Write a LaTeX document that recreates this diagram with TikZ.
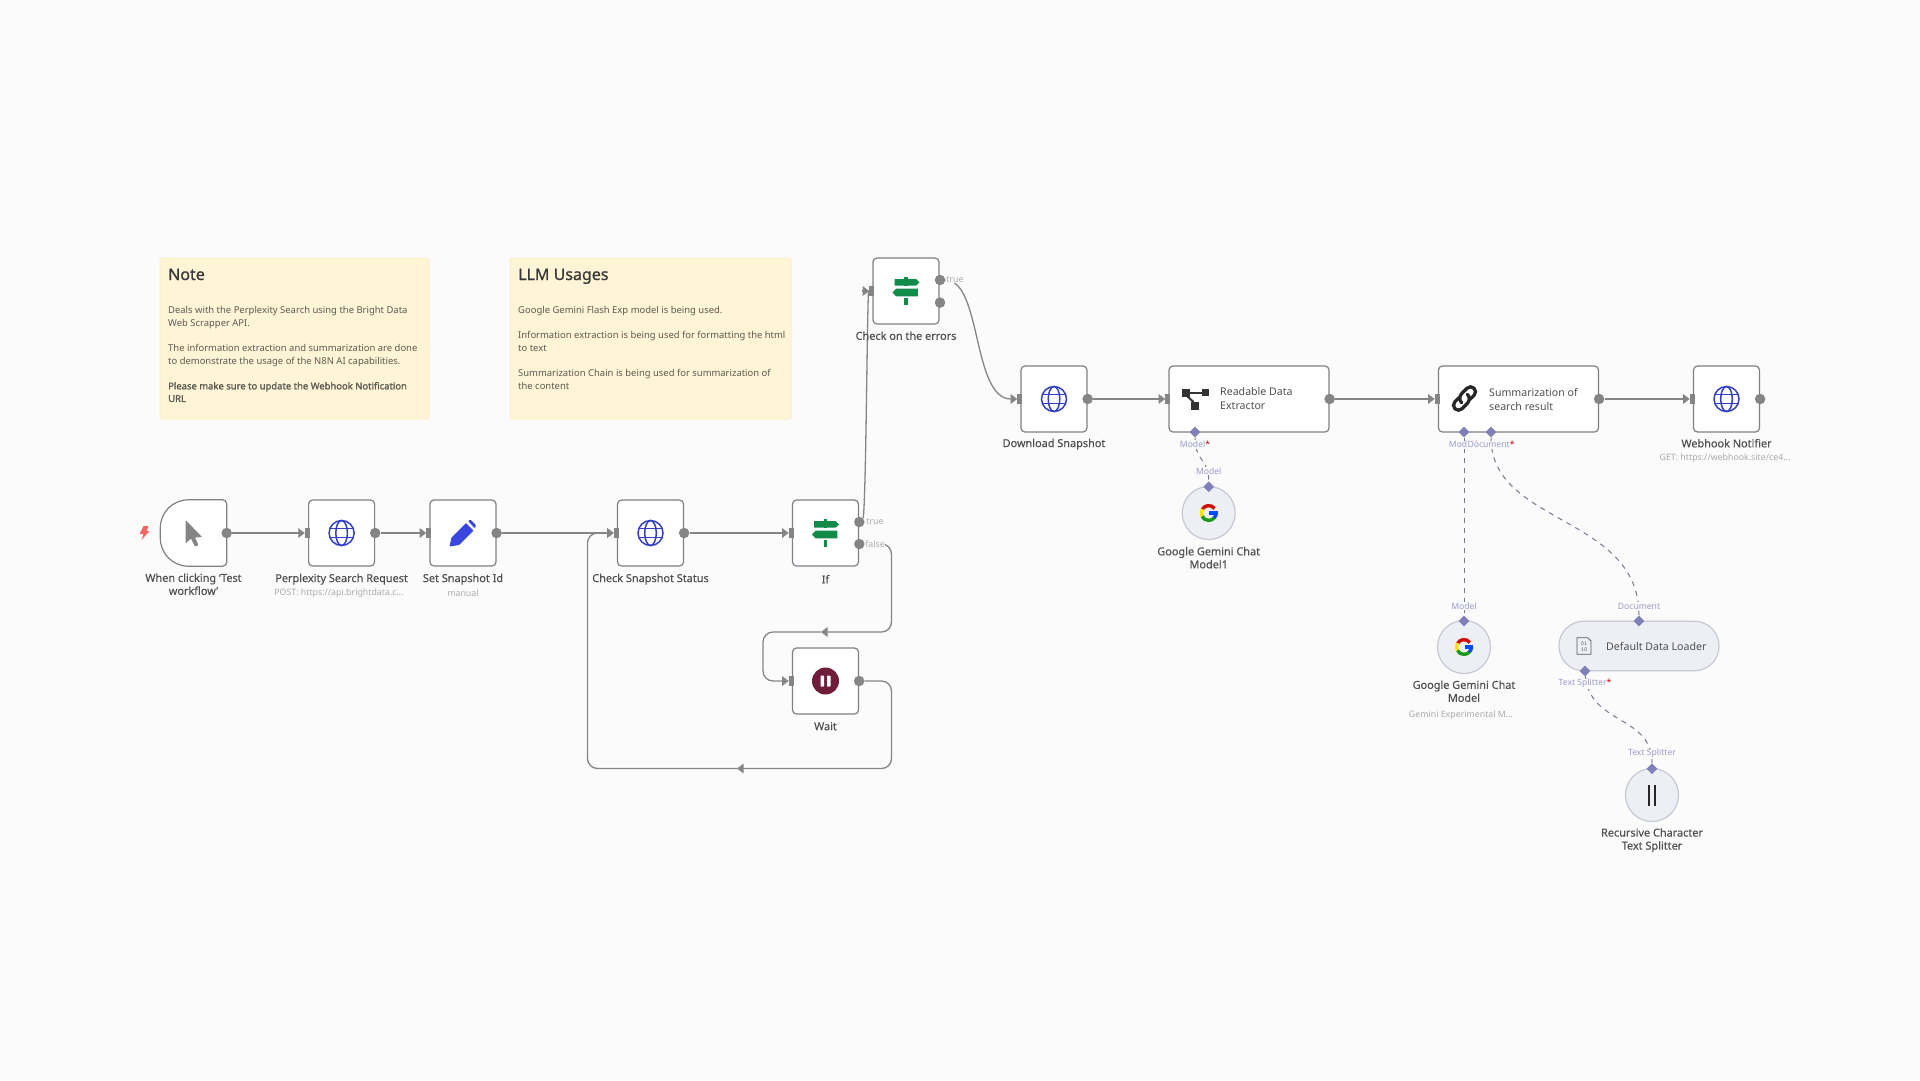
\documentclass[tikz,border=0pt]{standalone}
\usepackage{fontspec}
\setmainfont{Noto Sans}[Ligatures=NoCommon,BoldFont={Noto Sans},BoldFeatures={FakeBold=1.6}]
\newfontfamily\mediumfont{Noto Sans}[Ligatures=NoCommon,FakeBold=0.3]
\newfontfamily\titlefont{Noto Sans}[FakeBold=0.9]
\usetikzlibrary{arrows.meta,shapes.geometric}
\definecolor{pagebg}{HTML}{FBFBFB}
\definecolor{notefill}{HTML}{FFF4D6}
\definecolor{noteline}{HTML}{FCEFCB}
\definecolor{noteink}{HTML}{5C5A52}
\definecolor{boxline}{HTML}{7F7F87}
\definecolor{portgray}{HTML}{858585}
\definecolor{nameink}{HTML}{505050}
\definecolor{subink}{HTML}{ABABAB}
\definecolor{aiblue}{HTML}{8080B8}
\definecolor{ailabel}{HTML}{9A9ACC}
\definecolor{aidash}{HTML}{77778F}
\definecolor{aifill}{HTML}{EEEFF5}
\definecolor{ailine}{HTML}{C6C8D4}
\definecolor{globeblue}{HTML}{3340C4}
\definecolor{penblue}{HTML}{3A46E0}
\definecolor{signgreen}{HTML}{118A4A}
\definecolor{waitred}{HTML}{6F1D3A}
\definecolor{boltred}{HTML}{F4635E}
\tikzset{
	nodebox/.style={draw=boxline,fill=white,line width=1.2pt,rounded corners=4pt,inner sep=0pt,minimum width=66pt,minimum height=66pt},
	widebox/.style={nodebox,minimum width=160pt},
	aicircle/.style={circle,draw=ailine,fill=aifill,line width=1.2pt,inner sep=0pt,minimum size=53pt},
	outdot/.style={circle,fill=portgray,inner sep=0pt,minimum size=10.5pt},
	inport/.style={fill=portgray,inner sep=0pt,minimum width=5pt,minimum height=10pt},
	aiport/.style={diamond,fill=aiblue,inner sep=0pt,minimum size=11pt},
	conn/.style={draw=portgray,line width=1.3pt},
	connarrow/.style={conn,-{Triangle[length=6.5pt,width=9.5pt]}},
	aidashed/.style={draw=aidash,line width=1pt,dash pattern=on 5pt off 5pt},
	namelabel/.style={text=nameink,font=\mediumfont\fontsize{10.9}{13}\selectfont,align=center,inner sep=0pt,yshift=-1.2pt},
	sublabel/.style={text=subink,font=\fontsize{8.8}{11}\selectfont,inner sep=0pt,yshift=-1pt},
	portlabel/.style={text=subink,font=\fontsize{8.8}{11}\selectfont,fill=pagebg,inner sep=0.5pt},
	ailabeltext/.style={text=ailabel,font=\fontsize{8.6}{11}\selectfont,fill=pagebg,inner sep=0.7pt,yshift=-1pt},
	notebox/.style={draw=noteline,fill=notefill,line width=1pt,rounded corners=2pt,inner sep=0pt},
	notetitle/.style={text=black!78,font=\titlefont\fontsize{16}{18}\selectfont,anchor=base west,inner sep=0pt},
	notebody/.style={text=noteink,font=\fontsize{9.45}{12.6}\selectfont,anchor=north west,align=left,inner sep=0pt},
	boxtext/.style={text=nameink,font=\fontsize{10.6}{14}\selectfont,anchor=west,align=left,inner sep=0pt}
}
\newcommand{\globeicon}[1]{
	\begin{scope}[shift={(#1)},draw=globeblue,line width=1.5pt]
		\draw (0,0) circle (12.5);
		\draw (0,0) ellipse (5.8 and 12.5);
		\draw (-11.6,4.5) -- (11.6,4.5);
		\draw (-11.6,-4.5) -- (11.6,-4.5);
	\end{scope}
}
\newcommand{\signicon}[1]{
	\begin{scope}[shift={(#1)},fill=signgreen]
		\fill (-11.5,12) -- (10,12) -- (13.5,8.6) -- (10,5.3) -- (-11.5,5.3) -- cycle;
		\fill (-10,2.3) -- (11.8,2.3) -- (11.8,-5.3) -- (-10,-5.3) -- (-13.5,-1.5) -- cycle;
		\fill (-1.6,-7) rectangle (1.6,-13.7);
		\fill (-1.6,5) rectangle (1.6,13.7);
	\end{scope}
}
\newcommand{\googleicon}[1]{
	\begin{scope}[shift={(#1)},line width=3.4pt]
		\draw[red!80!black!90!orange] (38:7.4) arc (38:152:7.4);
		\draw[yellow!85!orange] (148:7.4) arc (148:212:7.4);
		\draw[green!55!black!90] (208:7.4) arc (208:322:7.4);
		\draw[blue!70!cyan] (318:7.4) arc (318:360:7.4);
		\draw[blue!70!cyan] (8.8,0) -- (0.5,0);
	\end{scope}
}
\begin{document}
\begin{tikzpicture}[x=1pt,y=1pt]
	\useasboundingbox[fill=pagebg] (0,0) rectangle (1920,-1080);

	\node[notebox,minimum width=269pt,minimum height=161pt] (notea) at (294.5,-338.5) {};
	\node[notetitle] (noteatitle) at (168,-280) {Note};
	\node[notebody] (noteabody) at (168,-306.4) {Deals with the Perplexity Search using the Bright Data\\Web Scrapper API.\\[12.6pt]The information extraction and summarization are done\\to demonstrate the usage of the N8N AI capabilities.\\[12.6pt]\textbf{Please make sure to update the Webhook Notification}\\\textbf{URL}};
	\node[notebox,minimum width=281pt,minimum height=161pt] (noteb) at (650.5,-338.5) {};
	\node[notetitle] (notebtitle) at (518,-280) {LLM Usages};
	\node[notebody] (notebbody) at (518,-306.4) {Google Gemini Flash Exp model is being used.\\[12.6pt]Information extraction is being used for formatting the html\\to text\\[12.6pt]Summarization Chain is being used for summarization of\\the content};

	\node[minimum size=66pt,inner sep=0pt] (trig) at (193.5,-533) {};
	\draw[draw=boxline,fill=white,line width=1.2pt] (trig.north east) [rounded corners=4pt] -- (trig.south east) -- (trig.south) [rounded corners=28pt] -- (trig.south west) -- (trig.north west) [rounded corners=4pt] -- cycle;
	\node[nodebox] (perp) at (341.6,-533) {};
	\node[nodebox] (setid) at (463,-533) {};
	\node[nodebox] (check) at (650.5,-533) {};
	\node[nodebox] (ifnode) at (825.5,-533) {};
	\node[nodebox] (wait) at (825.5,-681) {};
	\node[nodebox] (errors) at (906,-291) {};
	\node[nodebox] (download) at (1054,-399) {};
	\node[widebox] (readable) at (1249,-399) {};
	\node[widebox] (summar) at (1518.5,-399) {};
	\node[nodebox] (webhook) at (1726.5,-399) {};
	\node[aicircle] (geminia) at (1208.7,-513) {};
	\node[aicircle] (geminib) at (1464,-647) {};
	\node[aicircle,minimum size=53pt] (splitter) at (1652,-795) {};
	\node[draw=ailine,fill=aifill,line width=1.2pt,rounded corners=24.5pt,inner sep=0pt,minimum width=160pt,minimum height=49.5pt] (loader) at (1639,-646) {};

	\foreach \n in {perp,setid,check,ifnode,wait,errors,download,readable,summar,webhook}
		\node[inport] (in\n) at ([xshift=-0.5pt]\n.west) {};
	\foreach \n in {trig,perp,setid,check,wait,download,readable,summar,webhook}
		\node[outdot] (out\n) at (\n.east) {};
	\node[outdot] (iftrue) at (859.3,-522) {};
	\node[outdot] (iffalse) at (859.3,-544) {};
	\node[outdot] (errtrue) at (940,-280) {};
	\node[outdot] (errfalse) at (940,-302.6) {};

	\draw[connarrow] (outtrig) -- (inperp);
	\draw[connarrow] (outperp) -- (insetid);
	\draw[connarrow] (outsetid) -- (incheck);
	\draw[connarrow] (outcheck) -- (inifnode);
	\draw[connarrow] (outdownload) -- (inreadable);
	\draw[connarrow] (outreadable) -- (insummar);
	\draw[connarrow] (outsummar) -- (inwebhook);
	\coordinate (errstub) at (862,-291);
	\coordinate (errjoin) at (868.5,-291);
	\draw[conn] (iftrue.north east) .. controls (866,-500) and (867,-320) .. (errjoin);
	\draw[connarrow] (errstub) -- (inerrors);
	\draw[connarrow] (errtrue) .. controls (982,-280) and (972,-399) .. (indownload);
	\coordinate (falsemid) at (821,-632);
	\coordinate (waitmid) at (737,-768.5);
	\draw[connarrow,rounded corners=10pt] (iffalse) -- (891.5,-544) -- (891.5,-632) -- (falsemid);
	\draw[connarrow,rounded corners=10pt] (falsemid) -- (763,-632) -- (763,-681) -- (inwait);
	\draw[connarrow,rounded corners=10pt] (outwait) -- (891.5,-681) -- (891.5,-768.5) -- (waitmid);
	\draw[connarrow,rounded corners=10pt] (waitmid) -- (587.5,-768.5) -- (587.5,-533) -- (incheck);

	\node[aiport] (readmodel) at (1195,-432) {};
	\node[aiport] (sumodel) at (1464,-432) {};
	\node[aiport] (sumdoc) at (1491,-432) {};
	\node[aiport] (geminiaout) at (1208.7,-486.7) {};
	\node[aiport] (geminibout) at (1464,-621) {};
	\node[aiport] (loaderout) at (1639,-621) {};
	\node[aiport] (loadersplit) at (1585,-671) {};
	\node[aiport] (splitterout) at (1652,-768.7) {};
	\draw[aidashed] (readmodel) .. controls (1195,-462) and (1208.7,-458) .. (geminiaout);
	\draw[aidashed] (sumodel) -- (geminibout);
	\draw[aidashed] (sumdoc) .. controls (1491,-525) and (1639,-515) .. (loaderout);
	\draw[aidashed] (loadersplit) .. controls (1590,-725) and (1652,-715) .. (splitterout);

	\node[ailabeltext] (lbreadmodel) at (1195,-443.5) {Model\textcolor{red!80!black}{*}};
	\node[ailabeltext] (lbgeminia) at (1208.7,-470) {Model};
	\node[ailabeltext] (lbsumodel) at (1464,-443.7) {Model\textcolor{red!80!black}{*}};
	\node[ailabeltext] (lbsumdoc) at (1491,-443.7) {Document\textcolor{red!80!black}{*}};
	\node[ailabeltext] (lbgeminib) at (1464,-605) {Model};
	\node[ailabeltext] (lbloader) at (1639,-605) {Document};
	\node[ailabeltext] (lbsplit) at (1585,-682.7) {Text Splitter\textcolor{red!80!black}{*}};
	\node[ailabeltext] (lbsplitter) at (1652,-752.7) {Text Splitter};

	\node[portlabel] (lbiftrue) at (875,-522) {true};
	\node[portlabel] (lbiffalse) at (875,-544) {false};
	\node[portlabel] (lberrtrue) at (955,-280) {true};

	\node[namelabel] (lbtrig) at (193.5,-583) {When clicking ‘Test\\workflow’};
	\node[namelabel] (lbperp) at (341.6,-578) {Perplexity Search Request};
	\node[sublabel] (subperp) at (339,-592.6) {POST: https://api.brightdata.c...};
	\node[namelabel] (lbsetid) at (463,-578) {Set Snapshot Id};
	\node[sublabel] (subsetid) at (463,-592.6) {manual};
	\node[namelabel] (lbcheck) at (650.5,-578) {Check Snapshot Status};
	\node[namelabel] (lbifnode) at (825.5,-578) {If};
	\node[namelabel] (lbwait) at (825.5,-725) {Wait};
	\node[namelabel] (lberrors) at (906,-334.5) {Check on the errors};
	\node[namelabel] (lbdownload) at (1054,-443) {Download Snapshot};
	\node[namelabel] (lbwebhook) at (1726.5,-442) {Webhook Notifier};
	\node[sublabel] (subwebhook) at (1725,-457.5) {GET: https://webhook.site/ce4...};
	\node[namelabel] (lbgeminia2) at (1208.7,-556.5) {Google Gemini Chat\\Model1};
	\node[namelabel] (lbgeminib2) at (1464,-690) {Google Gemini Chat\\Model};
	\node[sublabel] (subgeminib) at (1461,-713.7) {Gemini Experimental M...};
	\node[namelabel] (lbsplitter2) at (1652,-839) {Recursive Character\\Text Splitter};
	\node[boxtext] (txtreadable) at (1220,-399) {Readable Data\\Extractor};
	\node[boxtext] (txtsummar) at (1489,-399) {Summarization of\\search result};
	\node[boxtext] (txtloader) at (1606,-646) {Default Data Loader};

	\fill[boltred] (143.5,-526) -- (148.5,-526) -- (146.5,-531) -- (149.5,-531) -- (141.5,-540) -- (143.5,-534) -- (139.5,-534) -- cycle;
	\fill[portgray,rounded corners=0.6pt] (185.5,-520) -- (185.5,-543.5) -- (191,-538.5) -- (195,-546.5) -- (198.5,-545) -- (195,-537.5) -- (202,-537) -- cycle;
	\globeicon{341.6,-533}
	\globeicon{650.5,-533}
	\globeicon{1054,-399}
	\globeicon{1726.5,-399}
	\fill[penblue,rounded corners=0.5pt] (449.5,-546.5) -- (451.5,-537.5) -- (466,-523) -- (473.5,-530.5) -- (459,-545) -- cycle;
	\fill[penblue,rounded corners=1pt] (468,-521) -- (470.5,-519.5) -- (476,-525) -- (475,-528.5) -- cycle;
	\signicon{825.5,-533}
	\signicon{906,-291}
	\fill[waitred] (825.5,-681) circle (13.5);
	\fill[white,rounded corners=0.6pt] (820.5,-675.5) rectangle (824,-686.5);
	\fill[white,rounded corners=0.6pt] (827,-675.5) rectangle (830.5,-686.5);
	\begin{scope}[shift={(1195,-399)},fill=black!80,draw=black!80]
		\fill (-13,2.5) rectangle (-5,10.5);
		\fill (6.5,3) rectangle (14,10.5);
		\fill (-4,-2.5) rectangle (4,-10.5);
		\draw[line width=2pt] (-5,6.5) -- (6.5,6.5);
		\draw[line width=2pt] (-8,3) -- (-1.5,-3);
	\end{scope}
	\begin{scope}[shift={(1464.5,-398.5)},rotate=45,draw=black!85,line width=3.3pt,line cap=round]
		\draw (-5,-1) .. controls (-5,3) and (-2,5.5) .. (2,5.5) -- (9,5.5) arc (90:-90:5) -- (3,-4.5);
		\draw (5,1) .. controls (5,-3) and (2,-5.5) .. (-2,-5.5) -- (-9,-5.5) arc (270:90:5) -- (-3,4.5);
	\end{scope}
	\googleicon{1208.7,-513}
	\googleicon{1464,-647}
	\begin{scope}[shift={(1584,-646)},draw=black!65,line width=0.8pt]
		\draw (-7,8.3) -- (3.5,8.3) -- (7,5) -- (7,-8.3) -- (-7,-8.3) -- cycle;
		\node[text=black!65,font=\fontfamily{lmtt}\fontsize{6}{6.5}\selectfont,align=center,inner sep=0pt] (dataicon) at (0,-0.5) {01\\10};
	\end{scope}
	\draw[black!85,line width=1.8pt] (1648.7,-784.5) -- (1648.7,-805.5);
	\draw[black!85,line width=1.8pt] (1655.3,-784.5) -- (1655.3,-805.5);
\end{tikzpicture}
\end{document}
